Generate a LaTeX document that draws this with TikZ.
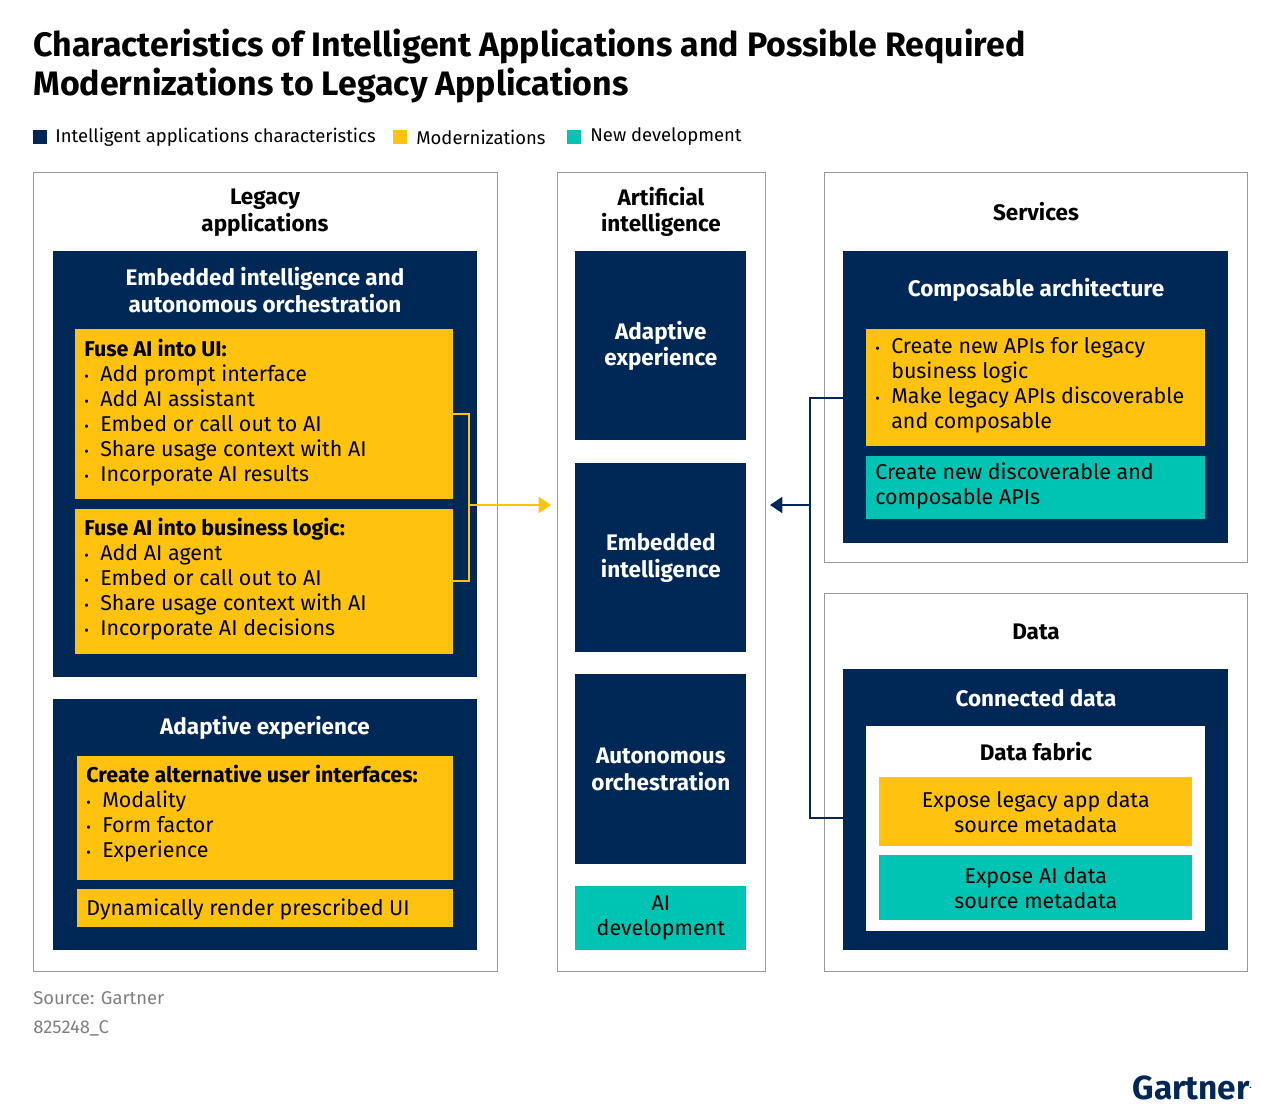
\documentclass[tikz,border=0pt]{standalone}
\usepackage{fontspec}
\setmainfont{Fira Sans}
\usetikzlibrary{arrows.meta}
\definecolor{navy}{HTML}{002856}
\definecolor{gold}{HTML}{FFC20E}
\definecolor{teal}{HTML}{00C4B3}
\definecolor{frame}{HTML}{9A9A9A}
\newcommand{\boxat}[6]{\node[#6,anchor=north west,inner sep=0pt,
  minimum width={(#4-#2)*0.02cm},minimum height={(#5-#3)*0.02cm}] (#1) at (#2,#3) {};}
\newcommand{\bl}{{\footnotesize\textbullet}\ \ }
\begin{document}
\begin{tikzpicture}[x=0.02cm,y=-0.02cm,
    outer/.style={draw=frame,line width=0.8pt,fill=white},
    navybox/.style={fill=navy},
    goldbox/.style={fill=gold},
    tealbox/.style={fill=teal},
    whitebox/.style={fill=white},
    head/.style={font=\fontsize{12.8}{15.2}\selectfont\bfseries,align=center},
    whead/.style={head,text=white},
    body/.style={font=\fontsize{12.2}{14.2}\selectfont,align=left,anchor=north west,inner sep=0pt}]
  \useasboundingbox (0,0) rectangle (1280,1115);
  % title and legend
  \node[anchor=north west,align=left,inner sep=0pt,font=\fontsize{19.3}{22}\selectfont\bfseries]
    (title) at (33,29) {Characteristics of Intelligent Applications and Possible Required\\Modernizations to Legacy Applications};
  \fill[navy] (33,130) rectangle (47,144);
  \node[anchor=west,inner sep=0pt,font=\fontsize{10.5}{13}\selectfont] (lg1) at (55,137) {Intelligent applications characteristics};
  \fill[gold] (393,130) rectangle (407,144);
  \node[anchor=west,inner sep=0pt,font=\fontsize{10.5}{13}\selectfont] (lg2) at (416,137) {Modernizations};
  \fill[teal] (567,130) rectangle (581,144);
  \node[anchor=west,inner sep=0pt,font=\fontsize{10.5}{13}\selectfont] (lg3) at (590,137) {New development};
  % legacy applications
  \boxat{legacy}{33}{172}{497}{971}{outer}
  \node[head] (legacyt) at (265,213) {Legacy\\applications};
  \boxat{embed}{53}{251}{477}{677}{navybox}
  \node[whead] (embedt) at (265,290) {Embedded intelligence and\\autonomous orchestration};
  \boxat{fuseui}{75}{329}{453}{499}{goldbox}
  \node[body] (fuseuit) at (84,339) {\textbf{Fuse AI into UI:}\\\bl Add prompt interface\\\bl Add AI assistant\\\bl Embed or call out to AI\\\bl Share usage context with AI\\\bl Incorporate AI results};
  \boxat{fusebl}{75}{509}{453}{654}{goldbox}
  \node[body] (fuseblt) at (84,518) {\textbf{Fuse AI into business logic:}\\\bl Add AI agent\\\bl Embed or call out to AI\\\bl Share usage context with AI\\\bl Incorporate AI decisions};
  \boxat{adapt}{53}{699}{477}{950}{navybox}
  \node[whead] (adaptt) at (265,728) {Adaptive experience};
  \boxat{altui}{77}{756}{453}{880}{goldbox}
  \node[body] (altuit) at (86,765) {\textbf{Create alternative user interfaces:}\\\bl Modality\\\bl Form factor\\\bl Experience};
  \boxat{render}{77}{889}{453}{927}{goldbox}
  \node[body,anchor=west] (rendert) at (86,909) {Dynamically render prescribed UI};
  % artificial intelligence
  \boxat{ai}{557}{172}{765}{971}{outer}
  \node[head] (ait) at (661,212) {Artificial\\intelligence};
  \boxat{aiadapt}{575}{251}{746}{440}{navybox}
  \node[whead] at (aiadapt) {Adaptive\\experience};
  \boxat{aiembed}{575}{463}{746}{652}{navybox}
  \node[whead] at (aiembed) {Embedded\\intelligence};
  \boxat{aiauto}{575}{674}{746}{864}{navybox}
  \node[whead] at (aiauto) {Autonomous\\orchestration};
  \boxat{aidev}{575}{886}{746}{950}{tealbox}
  \node[font=\fontsize{12.2}{14.2}\selectfont,align=center] at (aidev) {AI\\development};
  % services
  \boxat{services}{824}{172}{1247}{562}{outer}
  \node[head] (servicest) at (1036,212) {Services};
  \boxat{compose}{843}{251}{1228}{543}{navybox}
  \node[whead] (composet) at (1036,290) {Composable architecture};
  \boxat{apis}{866}{329}{1205}{446}{goldbox}
  \node[body] (apist) at (875,337) {\bl Create new APIs for legacy\\\phantom{\bl}business logic\\\bl Make legacy APIs discoverable\\\phantom{\bl}and composable};
  \boxat{newapis}{866}{456}{1205}{519}{tealbox}
  \node[body] (newapist) at (875,462) {Create new discoverable and\\composable APIs};
  % data
  \boxat{data}{824}{593}{1247}{971}{outer}
  \node[head] (datat) at (1036,632) {Data};
  \boxat{conn}{843}{669}{1228}{950}{navybox}
  \node[whead] (connt) at (1036,698) {Connected data};
  \boxat{fabric}{866}{726}{1205}{931}{whitebox}
  \node[head] (fabrict) at (1036,752) {Data fabric};
  \boxat{legmeta}{879}{777}{1192}{846}{goldbox}
  \node[font=\fontsize{12.2}{14.2}\selectfont,align=center] at (legmeta) {Expose legacy app data\\source metadata};
  \boxat{aimeta}{879}{855}{1192}{920}{tealbox}
  \node[font=\fontsize{12.2}{14.2}\selectfont,align=center] at (aimeta) {Expose AI data\\source metadata};
  % connectors
  \coordinate (bt) at (469,414);
  \coordinate (bb) at (469,581);
  \coordinate (bm) at (469,505);
  \draw[gold,line width=1.5pt] (453,414) -- (bt) -- (bb) -- (453,581);
  \draw[gold,line width=1.5pt,-{Triangle[length=7pt,width=9pt]}] (bm) -- (551,505);
  \coordinate (rt) at (810,398);
  \coordinate (rb) at (810,818);
  \coordinate (rm) at (810,505);
  \draw[navy,line width=1.5pt] (843,398) -- (rt) -- (rb) -- (843,818);
  \draw[navy,line width=1.5pt,-{Triangle[length=7pt,width=9pt]}] (rm) -- (770,505);
  % footer
  \node[anchor=west,inner sep=0pt,text=gray,font=\fontsize{10.5}{12}\selectfont] (src) at (33,998) {Source: Gartner};
  \node[anchor=west,inner sep=0pt,text=gray,font=\fontsize{10.5}{12}\selectfont] (code) at (33,1028) {825248\_C};
  \node[anchor=east,inner sep=0pt,text=navy,font=\fontsize{19}{20}\selectfont\bfseries] (logo) at (1253,1088) {Gartner\textsuperscript{\tiny.}};
\end{tikzpicture}
\end{document}
